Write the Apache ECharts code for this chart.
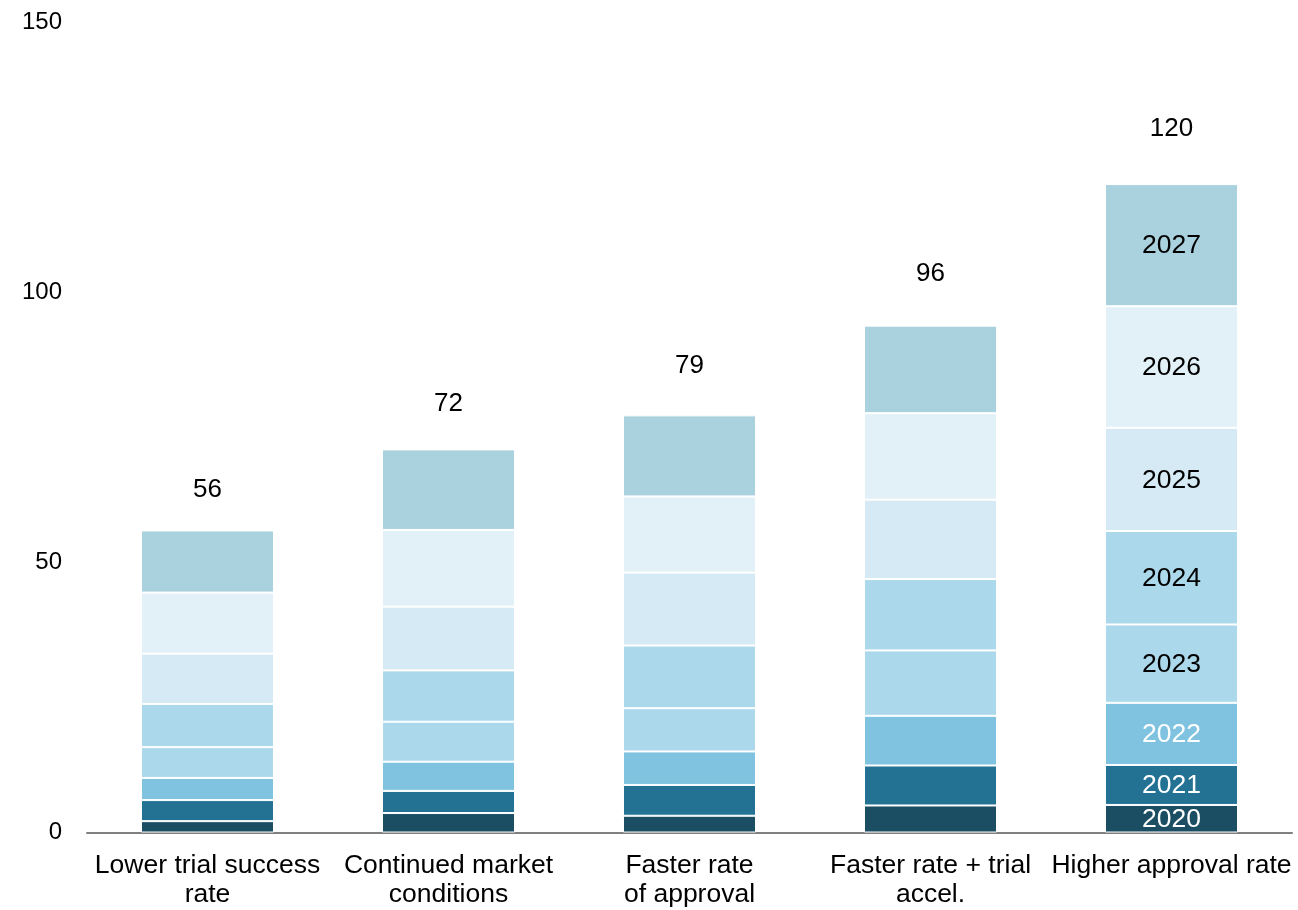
<!DOCTYPE html>
<html>
<head>
<meta charset="utf-8">
<script src="https://cdn.jsdelivr.net/npm/echarts@6/dist/echarts.min.js"></script>
<style>
  html, body { margin: 0; padding: 0; background: #ffffff; }
  #chart { width: 1298px; height: 910px; }
</style>
</head>
<body>
<div id="chart"></div>
<script>
const categories = [
  'Lower trial success\nrate',
  'Continued market\nconditions',
  'Faster rate\nof approval',
  'Faster rate + trial\naccel.',
  'Higher approval rate'
];
const years = ['2020', '2021', '2022', '2023', '2024', '2025', '2026', '2027'];
const v2020 = [2.1, 3.6, 3.1, 5.0, 5.1];
const v2021 = [3.9, 4.1, 5.7, 7.4, 7.4];
const v2022 = [4.1, 5.4, 6.2, 9.2, 11.5];
const v2023 = [5.7, 7.4, 8.0, 12.1, 14.5];
const v2024 = [8.0, 9.5, 11.6, 13.2, 17.3];
const v2025 = [9.3, 11.8, 13.5, 14.7, 19.1];
const v2026 = [11.3, 14.2, 14.1, 16.0, 22.5];
const v2027 = [11.5, 14.9, 15.0, 16.2, 22.6];
const totals = [56, 72, 79, 96, 120];
const yTicks = [0, 50, 100, 150];

const seriesValues = [v2020, v2021, v2022, v2023, v2024, v2025, v2026, v2027];
const colors = ['#1b4d63', '#237294', '#80c3e0', '#abd8ea', '#abd8ea', '#d5eaf5', '#e2f1f8', '#a9d1de'];
const labelColors = ['#ffffff', '#ffffff', '#ffffff', '#000000', '#000000', '#000000', '#000000', '#000000'];
const FONT = '"Liberation Sans", Arial, sans-serif';
const FS = 26.5;

const series = seriesValues.map((vals, si) => ({
  name: years[si],
  type: 'bar',
  stack: 'total',
  barWidth: 133,
  itemStyle: { color: colors[si], borderColor: '#ffffff', borderWidth: 1 },
  data: vals.map((v, ci) => ({
    value: v,
    label: {
      show: ci === categories.length - 1,
      formatter: years[si],
      position: 'inside',
      offset: [0, 1],
      color: labelColors[si],
      fontSize: FS,
      fontFamily: FONT
    }
  }))
}));

series.push({
  name: 'total',
  type: 'scatter',
  symbolSize: 0,
  silent: true,
  itemStyle: { opacity: 1 },
  data: totals.map((t, ci) => ({
    value: t,
    label: {
      show: true,
      position: 'top',
      distance: ci === totals.length - 1 ? 42 : 27,
      formatter: String(t),
      color: '#000000',
      opacity: 1,
      fontSize: 26,
      fontFamily: FONT
    }
  }))
});

const chart = echarts.init(document.getElementById('chart'), null, { renderer: 'canvas' });
chart.setOption({
  animation: false,
  backgroundColor: '#ffffff',
  grid: { left: 87, right: 6, top: 22, bottom: 77.5, containLabel: false },
  xAxis: {
    type: 'category',
    data: categories,
    axisLine: { show: true, lineStyle: { color: '#808080', width: 2 } },
    axisTick: { show: false },
    axisLabel: {
      interval: 0,
      color: '#000000',
      fontSize: FS,
      fontFamily: FONT,
      lineHeight: 29,
      margin: 19
    }
  },
  yAxis: {
    type: 'value',
    min: yTicks[0],
    max: yTicks[yTicks.length - 1],
    interval: yTicks[1] - yTicks[0],
    splitLine: { show: false },
    axisLine: { show: false },
    axisTick: { show: false },
    axisLabel: {
      color: '#000000',
      fontSize: 24,
      fontFamily: FONT,
      margin: 25
    }
  },
  series: series
});
</script>
</body>
</html>
